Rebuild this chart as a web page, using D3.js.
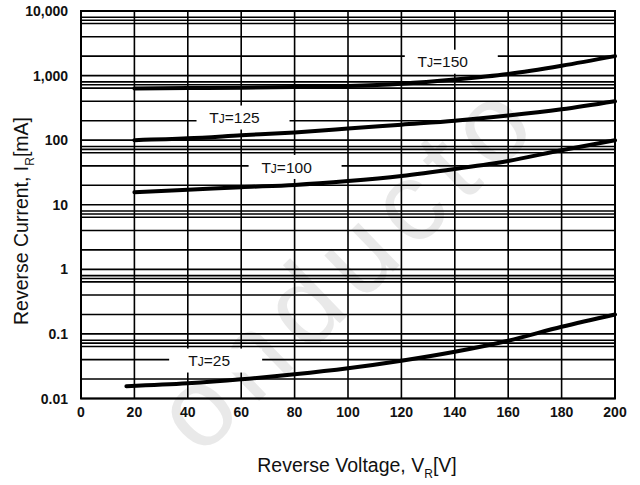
<!DOCTYPE html>
<html>
<head>
<meta charset="utf-8">
<script src="https://cdn.jsdelivr.net/npm/d3@7"></script>
<style>
  body { margin: 0; background: #fff; }
  svg { display: block; font-family: "Liberation Sans", Arial, sans-serif; }
</style>
</head>
<body>
<div id="chart"></div>
<script>
(function() {
    // reverse voltage points (V)
    const vr = [20, 40, 60, 80, 100, 120, 140, 160, 180, 200];
    const vr25 = [17, 40, 60, 80, 100, 120, 140, 160, 180, 200];

    // reverse current (mA)
    const tj150 = [630, 640, 650, 665, 690, 750, 870, 1060, 1420, 2000];
    const tj125 = [100, 107, 119, 132, 151, 174, 200, 240, 300, 400];
    const tj100 = [15.6, 17, 18.7, 20.3, 23.3, 27.9, 35.8, 47.6, 70, 100];
    const tj25 = [0.0155, 0.0172, 0.0198, 0.0237, 0.0294, 0.0385, 0.053, 0.0785, 0.129, 0.2];

    const xTicks = [0, 20, 40, 60, 80, 100, 120, 140, 160, 180, 200];
    const yDecades = [0.01, 0.1, 1, 10, 100, 1000, 10000];
    const yTickLabels = ['0.01', '0.1', '1', '10', '100', '1,000', '10,000'];
    const minorMults = [2, 4, 6.4, 7.2, 8];

    const width = 640, height = 485;
    const margin = {top: 11, right: 25, bottom: 86.5, left: 81};

    const svg = d3.select('#chart')
        .append('svg')
        .attr('width', width)
        .attr('height', height);

    const x = d3.scaleLinear().domain([0, 200]).range([margin.left, width - margin.right]);
    const y = d3.scaleLog().domain([0.01, 10000]).range([height - margin.bottom, margin.top]);

    // faint watermark behind the grid
    svg.append('text')
        .attr('transform', 'translate(200,458) rotate(-44)')
        .attr('font-size', 112)
        .attr('letter-spacing', 12)
        .attr('fill', '#e9e9e9')
        .text('onducto');

    // grid
    const grid = svg.append('g').attr('stroke', '#000').attr('stroke-width', 1.6);

    grid.selectAll('.vline')
        .data(xTicks)
        .enter().append('line')
        .attr('x1', d => x(d)).attr('x2', d => x(d))
        .attr('y1', y(0.01)).attr('y2', y(10000));

    const hVals = [];
    yDecades.forEach((d, i) => {
        hVals.push(d);
        if (i < yDecades.length - 1) minorMults.forEach(m => hVals.push(d * m));
    });

    grid.selectAll('.hline')
        .data(hVals)
        .enter().append('line')
        .attr('x1', x(0)).attr('x2', x(200))
        .attr('y1', d => y(d)).attr('y2', d => y(d));

    grid.append('rect')
        .attr('x', x(0)).attr('y', y(10000))
        .attr('width', x(200) - x(0)).attr('height', y(0.01) - y(10000))
        .attr('fill', 'none').attr('stroke-width', 2);

    // curve labels (V and current at the text centre)
    const labels = [
        {name: '150', v: 135.5, i: 1640},
        {name: '125', v: 57.5, i: 224},
        {name: '100', v: 77, i: 38.5},
        {name: '25', v: 48, i: 0.0387}
    ];

    const lab = svg.append('g').selectAll('g')
        .data(labels)
        .enter().append('g')
        .attr('transform', d => `translate(${x(d.v)},${y(d.i)})`);

    lab.append('rect')
        .attr('x', d => d.name === '25' ? -40 : -38)
        .attr('y', -12)
        .attr('width', 93)
        .attr('height', 24)
        .attr('fill', '#fff');

    const lt = lab.append('text')
        .attr('text-anchor', 'middle')
        .attr('dy', '0.36em')
        .attr('font-size', 15.5)
        .attr('fill', '#111');
    lt.append('tspan').text('T');
    lt.append('tspan').attr('font-size', 12).text('J');
    lt.append('tspan').text(d => '=' + d.name);

    // curves
    const line = d3.line()
        .x(d => x(d[0]))
        .y(d => y(d[1]))
        .curve(d3.curveMonotoneX);

    const series = [
        d3.zip(vr, tj150),
        d3.zip(vr, tj125),
        d3.zip(vr, tj100),
        d3.zip(vr25, tj25)
    ];

    svg.append('g').selectAll('path')
        .data(series)
        .enter().append('path')
        .attr('d', line)
        .attr('fill', 'none')
        .attr('stroke', '#000')
        .attr('stroke-width', 4)
        .attr('stroke-linecap', 'round');

    // tick labels
    svg.append('g').selectAll('text')
        .data(xTicks)
        .enter().append('text')
        .attr('x', d => x(d))
        .attr('y', y(0.01) + 18)
        .attr('text-anchor', 'middle')
        .attr('font-size', 14)
        .attr('font-weight', 'bold')
        .attr('fill', '#111')
        .text(d => d);

    svg.append('g').selectAll('text')
        .data(yDecades)
        .enter().append('text')
        .attr('x', 68)
        .attr('y', d => y(d))
        .attr('dy', '0.36em')
        .attr('text-anchor', 'end')
        .attr('font-size', 14)
        .attr('font-weight', 'bold')
        .attr('fill', '#111')
        .text((d, i) => yTickLabels[i]);

    // axis titles
    const xt = svg.append('text')
        .attr('x', 357)
        .attr('y', 472)
        .attr('text-anchor', 'middle')
        .attr('font-size', 19.5)
        .attr('fill', '#111');
    xt.append('tspan').text('Reverse Voltage, V');
    xt.append('tspan').attr('font-size', 12).attr('dy', 6).text('R');
    xt.append('tspan').attr('dy', -6).text('[V]');

    const yt = svg.append('text')
        .attr('transform', 'translate(28,221) rotate(-90)')
        .attr('text-anchor', 'middle')
        .attr('font-size', 19.5)
        .attr('fill', '#111');
    yt.append('tspan').text('Reverse Current, I');
    yt.append('tspan').attr('font-size', 12).attr('dy', 6).text('R');
    yt.append('tspan').attr('dy', -6).text('[mA]');
})();
</script>
</body>
</html>
